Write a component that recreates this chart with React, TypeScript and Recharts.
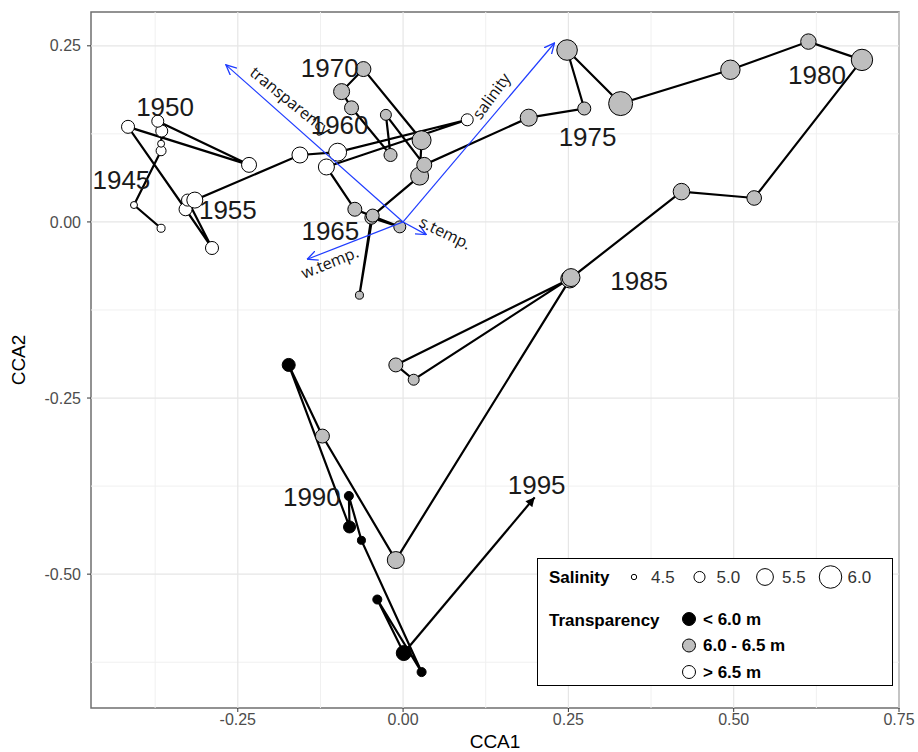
import React from "react";
import {
  ReferenceArea,
  ReferenceLine,
  Scatter,
  ScatterChart,
  XAxis,
  YAxis,
} from "recharts";

// site scores, in sample order (1945 -> 1994)
const CCA1 = [
  -0.366, -0.407, -0.366, -0.366, -0.365, -0.371, -0.233, -0.416, -0.329, -0.289, -0.326, -0.315, -0.156, -0.099, 0.097, -0.116,
  -0.073, -0.005, -0.048, -0.066, -0.046, 0.025, 0.028, -0.06, -0.093, -0.078, -0.019, -0.026, 0.032, 0.19,
  0.274, 0.248, 0.329, 0.495, 0.613, 0.694, 0.531, 0.421, 0.252, -0.011, 0.016, 0.254, -0.011, -0.122, -0.173, -0.081, -0.082,
  -0.063, 0.028, -0.039, 0.001,
];
const CCA2 = [
  -0.009, 0.024, 0.101, 0.111, 0.129, 0.143, 0.081, 0.135, 0.018, -0.037, 0.031, 0.031, 0.095, 0.099, 0.145, 0.078,
  0.018, -0.007, 0.006, -0.104, 0.009, 0.065, 0.116, 0.217, 0.185, 0.162, 0.095, 0.152, 0.081, 0.148,
  0.161, 0.244, 0.168, 0.216, 0.256, 0.23, 0.034, 0.043, -0.081, -0.203, -0.224, -0.079, -0.48, -0.304, -0.203, -0.433, -0.389,
  -0.452, -0.639, -0.536, -0.612,
];
const SALINITY = [
  4.73, 4.64, 4.9, 4.64, 5.08, 5.08, 5.34, 5.17, 5.17, 5.17, 5.08, 5.43, 5.43, 5.6, 5.08, 5.43,
  5.25, 5.08, 5.17, 4.73, 5.17, 5.6, 5.69, 5.34, 5.43, 5.25, 5.17, 4.99, 5.34, 5.52,
  5.17, 5.83, 6.13, 5.73, 5.38, 5.9, 5.31, 5.48, 5.6, 5.25, 4.99, 5.6, 5.52, 5.25, 5.17, 5.08, 4.82,
  4.73, 4.82, 4.82, 5.34,
];
// transparency class: hi = > 6.5 m, mid = 6.0 - 6.5 m, lo = < 6.0 m
const TRANSP = [
  "hi", "hi", "hi", "hi", "hi", "hi", "hi", "hi", "hi", "hi", "hi", "hi", "hi", "hi", "hi", "hi",
  "mid", "mid", "mid", "mid", "mid", "mid", "mid", "mid", "mid", "mid", "mid", "mid", "mid", "mid",
  "mid", "mid", "mid", "mid", "mid", "mid", "mid", "mid", "mid", "mid", "mid", "mid", "mid", "mid", "lo", "lo", "lo",
  "lo", "lo", "lo", "lo",
];
// where the trajectory heads after the last sample
const TREND_END = [0.199, -0.391];

const YEAR_LABELS = ["1945", "1950", "1955", "1960", "1965", "1970", "1975", "1980", "1985", "1990", "1995"];
const YEAR_LABEL_X = [-0.426, -0.36, -0.265, -0.096, -0.11, -0.111, 0.279, 0.626, 0.357, -0.138, 0.202];
const YEAR_LABEL_Y = [0.06, 0.163, 0.017, 0.138, -0.013, 0.219, 0.121, 0.209, -0.084, -0.391, -0.374];

// environmental biplot arrows
const ENV_NAMES = ["transparency", "salinity", "s.temp.", "w.temp."];
const ENV_X = [-0.268, 0.229, 0.035, -0.145];
const ENV_Y = [0.223, 0.254, -0.018, -0.053];
const ENV_LABEL_X = [-0.17, 0.133, 0.064, -0.111];
const ENV_LABEL_Y = [0.172, 0.179, -0.015, -0.057];
const ENV_LABEL_ANGLE = [39, -54, 26, -22];

const SAL_LEVELS = [4.5, 5.0, 5.5, 6.0];
const TRANSP_LEVELS = ["lo", "mid", "hi"];
const TRANSP_NAMES = ["< 6.0 m", "6.0 - 6.5 m", "> 6.5 m"];

const X_TICKS = [-0.25, 0, 0.25, 0.5, 0.75];
const Y_TICKS = [-0.5, -0.25, 0, 0.25];
const X_MINOR = [-0.375, -0.125, 0.125, 0.375, 0.625];
const Y_MINOR = [-0.625, -0.375, -0.125, 0.125];

const FILL: Record<string, string> = { lo: "#000000", mid: "#bebebe", hi: "#ffffff" };
const BLUE = "#1f3cff";
const FONT = '"Liberation Sans", Arial, sans-serif';
const X_DOMAIN = [-0.472, 0.75];
const Y_DOMAIN = [-0.69, 0.298];

const radius = (s: number) => 2.7 + (s - 4.5) * 5.7;

const points = CCA1.map((x, i) => ({ x, y: CCA2[i], sal: SALINITY[i], tr: TRANSP[i] }));
const trend = [
  { x: CCA1[CCA1.length - 1], y: CCA2[CCA2.length - 1] },
  { x: TREND_END[0], y: TREND_END[1] },
];
const yearLabels = YEAR_LABELS.map((t, i) => ({ x: YEAR_LABEL_X[i], y: YEAR_LABEL_Y[i], t }));
const envLabels = ENV_NAMES.map((t, i) => ({ x: ENV_LABEL_X[i], y: ENV_LABEL_Y[i], t, a: ENV_LABEL_ANGLE[i] }));

const fmt = (v: number) => v.toFixed(2);
const none = () => <g />;

function Legend() {
  return (
    <svg width={357} height={129} style={{ position: "absolute", left: 537, top: 558 }}>
      <rect x={0.5} y={0.5} width={355} height={127} fill="#fff" stroke="#000" strokeWidth={1} />
      <g fontFamily={FONT} fontSize={17} fill="#000">
        <text x={12} y={19} dominantBaseline="central" fontWeight="bold">Salinity</text>
        {SAL_LEVELS.map((s, i) => (
          <g key={s}>
            <circle cx={97 + i * 65.5} cy={19} r={radius(s)} fill="#fff" stroke="#000" />
            <text x={97 + i * 65.5 + 17} y={19} dominantBaseline="central" fill="#333">{s.toFixed(1)}</text>
          </g>
        ))}
        <text x={12} y={62} dominantBaseline="central" fontWeight="bold">Transparency</text>
        {TRANSP_LEVELS.map((t, i) => (
          <g key={t}>
            <circle cx={152} cy={61 + i * 26.5} r={6.5} fill={FILL[t]} stroke="#000" />
            <text x={166} y={61 + i * 26.5} dominantBaseline="central" fontWeight="bold">{TRANSP_NAMES[i]}</text>
          </g>
        ))}
      </g>
    </svg>
  );
}

export default function App() {
  return (
    <div style={{ position: "absolute", left: 0, top: 0, width: 918, height: 752, background: "#fff" }}>
      <ScatterChart width={918} height={752} margin={{ top: 12, right: 19, bottom: 0, left: 0 }}>
        <defs>
          <marker id="blueHead" viewBox="0 0 10 10" refX={9.5} refY={5} markerUnits="userSpaceOnUse" markerWidth={11} markerHeight={11} orient="auto">
            <path d="M0,0.5 L9.5,5 L0,9.5" fill="none" stroke={BLUE} strokeWidth={1.2} />
          </marker>
          <marker id="blackHead" viewBox="0 0 10 10" refX={10} refY={5} markerUnits="userSpaceOnUse" markerWidth={11} markerHeight={9} orient="auto">
            <path d="M0,0 L10,5 L0,10 z" fill="#000" />
          </marker>
        </defs>
        <XAxis
          type="number"
          dataKey="x"
          domain={X_DOMAIN}
          allowDataOverflow
          ticks={X_TICKS}
          tickFormatter={fmt}
          height={44}
          axisLine={false}
          tickSize={4}
          tickLine={{ stroke: "#333" }}
          tick={{ fontSize: 16, fill: "#4d4d4d", fontFamily: FONT }}
          label={{ value: "CCA1", position: "insideBottom", offset: 4, style: { fontSize: 19, fill: "#000", fontFamily: FONT } }}
        />
        <YAxis
          type="number"
          dataKey="y"
          domain={Y_DOMAIN}
          allowDataOverflow
          ticks={Y_TICKS}
          tickFormatter={fmt}
          width={91}
          axisLine={false}
          tickSize={4}
          tickMargin={6}
          tickLine={{ stroke: "#333" }}
          tick={{ fontSize: 16, fill: "#4d4d4d", fontFamily: FONT }}
          label={{ value: "CCA2", angle: -90, position: "insideLeft", offset: 18, style: { fontSize: 19, fill: "#000", fontFamily: FONT, textAnchor: "middle" } }}
        />
        {X_MINOR.map((v) => <ReferenceLine key={"xm" + v} x={v} stroke="#f0f0f0" strokeWidth={1} />)}
        {Y_MINOR.map((v) => <ReferenceLine key={"ym" + v} y={v} stroke="#f0f0f0" strokeWidth={1} />)}
        {X_TICKS.map((v) => <ReferenceLine key={"x" + v} x={v} stroke="#e6e6e6" strokeWidth={1.2} />)}
        {Y_TICKS.map((v) => <ReferenceLine key={"y" + v} y={v} stroke="#e6e6e6" strokeWidth={1.2} />)}

        <Scatter
          data={points}
          isAnimationActive={false}
          line={{ stroke: "#000", strokeWidth: 2.2 }}
          lineType="joint"
          shape={(p: any) => (
            <circle cx={p.cx} cy={p.cy} r={radius(p.payload.sal)} fill={FILL[p.payload.tr]} stroke="#000" strokeWidth={1} />
          )}
        />
        <Scatter
          data={trend}
          isAnimationActive={false}
          line={{ stroke: "#000", strokeWidth: 2.2, markerEnd: "url(#blackHead)" }}
          lineType="joint"
          shape={none}
        />
        {ENV_NAMES.map((n, i) => (
          <Scatter
            key={n}
            data={[{ x: 0, y: 0 }, { x: ENV_X[i], y: ENV_Y[i] }]}
            isAnimationActive={false}
            line={{ stroke: BLUE, strokeWidth: 1.2, markerEnd: "url(#blueHead)" }}
            lineType="joint"
            shape={none}
          />
        ))}
        <Scatter
          data={envLabels}
          isAnimationActive={false}
          shape={(p: any) => (
            <text
              x={p.cx}
              y={p.cy}
              transform={`rotate(${p.payload.a} ${p.cx} ${p.cy})`}
              textAnchor="middle"
              dominantBaseline="central"
              fontFamily='"Open Sans", sans-serif'
              fontSize={16}
              fill="#111"
            >
              {p.payload.t}
            </text>
          )}
        />
        <Scatter
          data={yearLabels}
          isAnimationActive={false}
          shape={(p: any) => (
            <text x={p.cx} y={p.cy} textAnchor="middle" dominantBaseline="central" fontFamily={FONT} fontSize={26} fill="#1a1a1a">
              {p.payload.t}
            </text>
          )}
        />
        <ReferenceArea x1={X_DOMAIN[0]} x2={X_DOMAIN[1]} y1={Y_DOMAIN[0]} y2={Y_DOMAIN[1]} fill="none" stroke="#6f6f6f" strokeWidth={1.5} />
      </ScatterChart>
      <Legend />
    </div>
  );
}
